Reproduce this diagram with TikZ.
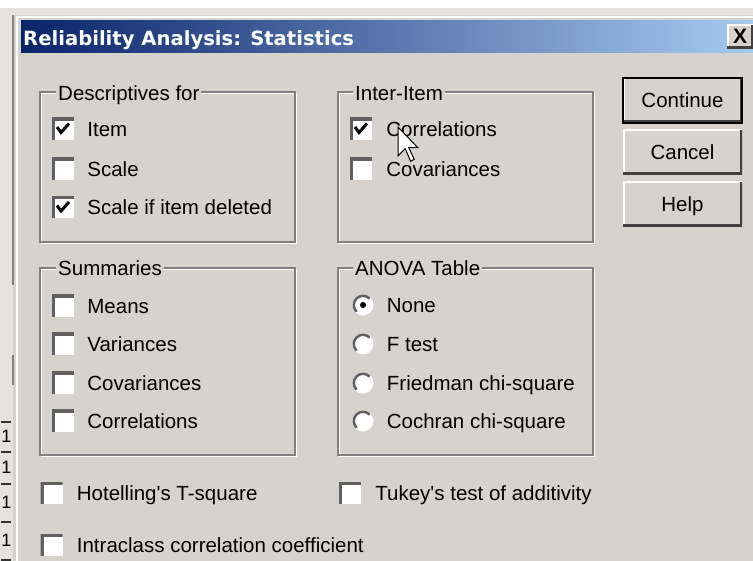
\documentclass[tikz,border=0pt]{standalone}
\usepackage{fontspec}
\setmainfont{Liberation Sans}
\newfontfamily\titlefont{DejaVu Sans}
\usetikzlibrary{positioning}
\definecolor{face}{HTML}{D6D3CE}
\definecolor{outside}{HTML}{E4E3DF}
\definecolor{tbdark}{HTML}{0A246A}
\definecolor{tblight}{HTML}{A6CAF0}
\definecolor{shadow}{HTML}{808080}
\definecolor{dkshadow}{HTML}{404040}
\tikzset{
  % text
  opt/.style={inner sep=0pt,anchor=west,text height=14.7pt,text depth=0pt,
              font=\fontsize{20.5}{24}\selectfont},
  glab/.style={opt,fill=face,inner xsep=2pt},
  ttl/.style={anchor=base west,inner sep=0pt,text=white,
              font=\titlefont\bfseries\fontsize{19.6}{22}\selectfont},
  % ramar
  etch/.style={draw=shadow,line width=1.2pt,
               preaction={draw=white,line width=1.2pt,transform canvas={shift={(1.2pt,-1.2pt)}}}},
  % kryssrutor
  chk/.style={rectangle,fill=white,inner sep=0pt,minimum size=22pt,
    path picture={\draw[shadow!75!black,line width=6pt]
      (path picture bounding box.south west) |- (path picture bounding box.north east);}},
  chkon/.style={rectangle,fill=white,inner sep=0pt,minimum size=22pt,
    path picture={\draw[shadow!75!black,line width=6pt]
      (path picture bounding box.south west) |- (path picture bounding box.north east);
      \draw[black,line width=3pt,line join=miter]
      ([shift={(-6pt,2pt)}]path picture bounding box.center) --
      ([shift={(-2pt,-3.5pt)}]path picture bounding box.center) --
      ([shift={(6pt,5.5pt)}]path picture bounding box.center);}},
  % radioknappar
  radio/.style={circle,fill=white,inner sep=0pt,minimum size=21pt,
    path picture={\draw[shadow!75!black,line width=5pt]
      ([shift={(45:10.5pt)}]path picture bounding box.center) arc (45:225:10.5pt);}},
  radon/.style={circle,fill=white,inner sep=0pt,minimum size=21pt,
    path picture={\draw[shadow!75!black,line width=5pt]
      ([shift={(45:10.5pt)}]path picture bounding box.center) arc (45:225:10.5pt);
      \fill[black] (path picture bounding box.center) circle (3pt);}},
  % knappar
  btn/.style={rectangle,fill=face,inner sep=0pt,minimum width=119pt,minimum height=45pt,
              text height=14.7pt,text depth=0pt,font=\fontsize{20.5}{24}\selectfont,
    path picture={\draw[white,line width=3pt]
      (path picture bounding box.south west) |- (path picture bounding box.north east);
      \draw[dkshadow,line width=5pt]
      (path picture bounding box.south west) -| (path picture bounding box.north east);}},
  btndef/.style={btn,draw=black,line width=2.5pt},
  xbtn/.style={btn,minimum width=26pt,minimum height=24pt,text height=14pt,
               font=\bfseries\fontsize{21}{22}\selectfont},
  bak/.style={inner sep=0pt,font=\fontsize{18}{18}\selectfont},
}

\begin{document}
\begin{tikzpicture}[x=1pt,y=-1pt]
  \useasboundingbox (0,0) rectangle (753,561);
  \fill[outside] (0,0) rectangle (753,561);
  \fill[white] (0,0) rectangle (753,8);
  \fill[face] (13,15) rectangle (753,561);
  \draw[white,line width=1.5pt] (16,17) -- (753,17);
  \draw[white,line width=1.5pt] (17,17) -- (17,561);
  \draw[shadow,line width=2.5pt] (13,15) -- (13,285);
  \draw[shadow,line width=2.5pt] (13,355) -- (13,385);
  % fönstret bakom
  \foreach \y in {422,452,484,522,560}
    \draw[black!80,line width=1.5pt] (1,\y) -- (11,\y);
  \node[bak] (b1) at (6.5,436) {1};
  \node[bak] (b2) at (6.5,467) {1};
  \node[bak] (b3) at (6.5,502) {1};
  \node[bak] (b4) at (6.5,540) {1};

  % titelrad
  \shade[left color=tbdark,right color=tblight] (21,21) rectangle (753,53);
  \node[ttl] (title) at (23,45.5) {Reliability Analysis: Statistics};
  \node[xbtn] (close) at (740,37) {X};

  % grupper
  \draw[etch] (40,92) rectangle (295,242);
  \draw[etch] (338,92) rectangle (593,242);
  \draw[etch] (40,268) rectangle (295,455);
  \draw[etch] (338,268) rectangle (593,455);
  \node[glab] (gDesc) at (56,93) {Descriptives for};
  \node[glab] (gInter) at (353,93) {Inter-Item};
  \node[glab] (gSumm) at (56,268) {Summaries};
  \node[glab] (gAnova) at (353,268) {ANOVA Table};

  % Descriptives for
  \node[chkon] (cItem) at (63,129) {};
  \node[opt,right=13pt of cItem] (tItem) {Item};
  \node[chk] (cScale) at (63,169) {};
  \node[opt,right=13pt of cScale] (tScale) {Scale};
  \node[chkon] (cDel) at (63,207.5) {};
  \node[opt,right=13pt of cDel] (tDel) {Scale if item deleted};

  % Inter-Item
  \node[chkon] (cCorr) at (361,129) {};
  \node[opt,right=14pt of cCorr] (tCorr) {Correlations};
  \node[chk] (cCov) at (361,169) {};
  \node[opt,right=14pt of cCov] (tCov) {Covariances};

  % Summaries
  \node[chk] (cMeans) at (63,306) {};
  \node[opt,right=13pt of cMeans] (tMeans) {Means};
  \node[chk] (cVar) at (63,344) {};
  \node[opt,right=13pt of cVar] (tVar) {Variances};
  \node[chk] (cSCov) at (63,383) {};
  \node[opt,right=13pt of cSCov] (tSCov) {Covariances};
  \node[chk] (cSCorr) at (63,421) {};
  \node[opt,right=13pt of cSCorr] (tSCorr) {Correlations};

  % ANOVA Table
  \node[radon] (rNone) at (363,305) {};
  \node[opt,right=13pt of rNone] (tNone) {None};
  \node[radio] (rF) at (363,344) {};
  \node[opt,right=13pt of rF] (tF) {F test};
  \node[radio] (rFried) at (363,383) {};
  \node[opt,right=13pt of rFried] (tFried) {Friedman chi-square};
  \node[radio] (rCoch) at (363,421) {};
  \node[opt,right=13pt of rCoch] (tCoch) {Cochran chi-square};

  % nederst
  \node[chk] (cHot) at (51.5,493) {};
  \node[opt,right=14pt of cHot] (tHot) {Hotelling\textquotesingle s T-square};
  \node[chk] (cTuk) at (350,493) {};
  \node[opt,right=14pt of cTuk] (tTuk) {Tukey\textquotesingle s test of additivity};
  \node[chk] (cIcc) at (51.5,545) {};
  \node[opt,right=14pt of cIcc] (tIcc) {Intraclass correlation coefficient};

  % knappar
  \node[btndef] (bCont) at (682.5,100.5) {Continue};
  \node[btn] (bCanc) at (682.5,152.5) {Cancel};
  \node[btn] (bHelp) at (682.5,204.5) {Help};

  % muspekare
  \draw[fill=white,line width=1pt,line join=miter]
    (398,127) -- (398,155.8) -- (405.2,148.6) -- (410.6,161.2) -- (414.2,159.4)
    -- (408.8,147.7) -- (417.8,147.7) -- cycle;
\end{tikzpicture}
\end{document}
